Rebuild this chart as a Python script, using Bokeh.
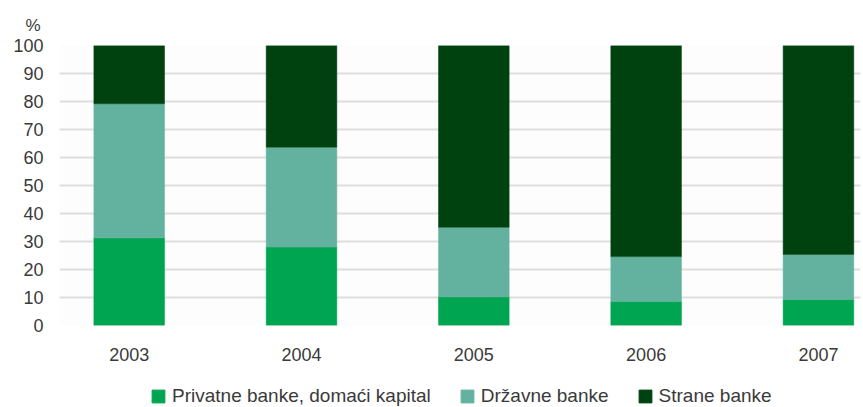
from bokeh.plotting import figure
from bokeh.layouts import column
from bokeh.models import (ColumnDataSource, Range1d, FixedTicker, Legend, LegendItem, Title)
from bokeh.embed import file_html
from bokeh.resources import INLINE

years = ["2003", "2004", "2005", "2006", "2007"]
private_dom = [31.3, 28.0, 10.2, 8.6, 9.3]
state = [47.9, 35.7, 24.9, 16.0, 16.1]
foreign = [20.8, 36.3, 64.9, 75.4, 74.6]
series_names = ["Privatne banke, domaći kapital", "Državne banke", "Strane banke"]
colors = ["#00a551", "#63b2a0", "#00420f"]
y_ticks = [0, 10, 20, 30, 40, 50, 60, 70, 80, 90, 100]

xs = list(range(len(years)))
source = ColumnDataSource(dict(x=xs, p=private_dom, s=state, f=foreign))

FONT = "Liberation Sans"
TXT = "#3a3a3a"

p = figure(width=863, height=377, output_backend="svg", toolbar_location=None,
           x_range=Range1d(-0.4045, 4.244), y_range=Range1d(0, 100),
           min_border_left=59, min_border_right=3, min_border_top=45, min_border_bottom=52)

rs = p.vbar_stack(["p", "s", "f"], x="x", width=0.41, source=source,
                  color=colors, line_color=colors, line_width=0.5)

p.background_fill_color = "#fdfdfd"
p.border_fill_color = "#ffffff"
p.outline_line_color = None
p.xgrid.grid_line_color = None
p.ygrid.grid_line_color = "#dedede"
p.ygrid.grid_line_width = 2
p.ygrid.ticker = FixedTicker(ticks=y_ticks)

p.yaxis.ticker = FixedTicker(ticks=y_ticks)
p.xaxis.ticker = FixedTicker(ticks=xs)
p.xaxis.major_label_overrides = {i: y for i, y in enumerate(years)}
for ax in (p.xaxis[0], p.yaxis[0]):
    ax.axis_line_color = None
    ax.major_tick_line_color = None
    ax.minor_tick_line_color = None
    ax.major_tick_out = 0
    ax.major_tick_in = 0
    ax.major_label_text_font = FONT
    ax.major_label_text_font_size = "18px"
    ax.major_label_text_color = TXT
p.yaxis.major_label_standoff = 16
p.xaxis.major_label_standoff = 22

pct = Title(text="%", align="left", offset=-34, standoff=21,
            text_font=FONT, text_font_size="17px", text_color=TXT, text_font_style="normal")
p.add_layout(pct, "above")

# legend strip below the chart
p2 = figure(width=863, height=30, output_backend="svg", toolbar_location=None,
            x_range=Range1d(-0.4045, 4.244), y_range=Range1d(0, 100),
            min_border_left=0, min_border_right=0, min_border_top=0, min_border_bottom=0)
p2.axis.visible = False
p2.grid.grid_line_color = None
p2.outline_line_color = None
p2.background_fill_color = "#ffffff"
p2.border_fill_color = "#ffffff"
leg_rs = p2.vbar_stack(["p", "s", "f"], x="x", width=0.41, source=source,
                       color=colors, line_color=colors)
for r in leg_rs:
    r.visible = False
items = [LegendItem(label=n, renderers=[r]) for n, r in zip(series_names, leg_rs)]
legend = Legend(items=items, orientation="horizontal", location=(91, 0),
                padding=0, margin=0, spacing=28, label_standoff=6,
                glyph_width=16, glyph_height=16,
                inactive_fill_alpha=0, click_policy="none",
                label_text_font=FONT, label_text_font_size="19px", label_text_color=TXT,
                border_line_color=None, background_fill_alpha=0)
p2.add_layout(legend, "center")

layout = column(p, p2, spacing=0)
open("out.html", "w").write(file_html(layout, INLINE))
